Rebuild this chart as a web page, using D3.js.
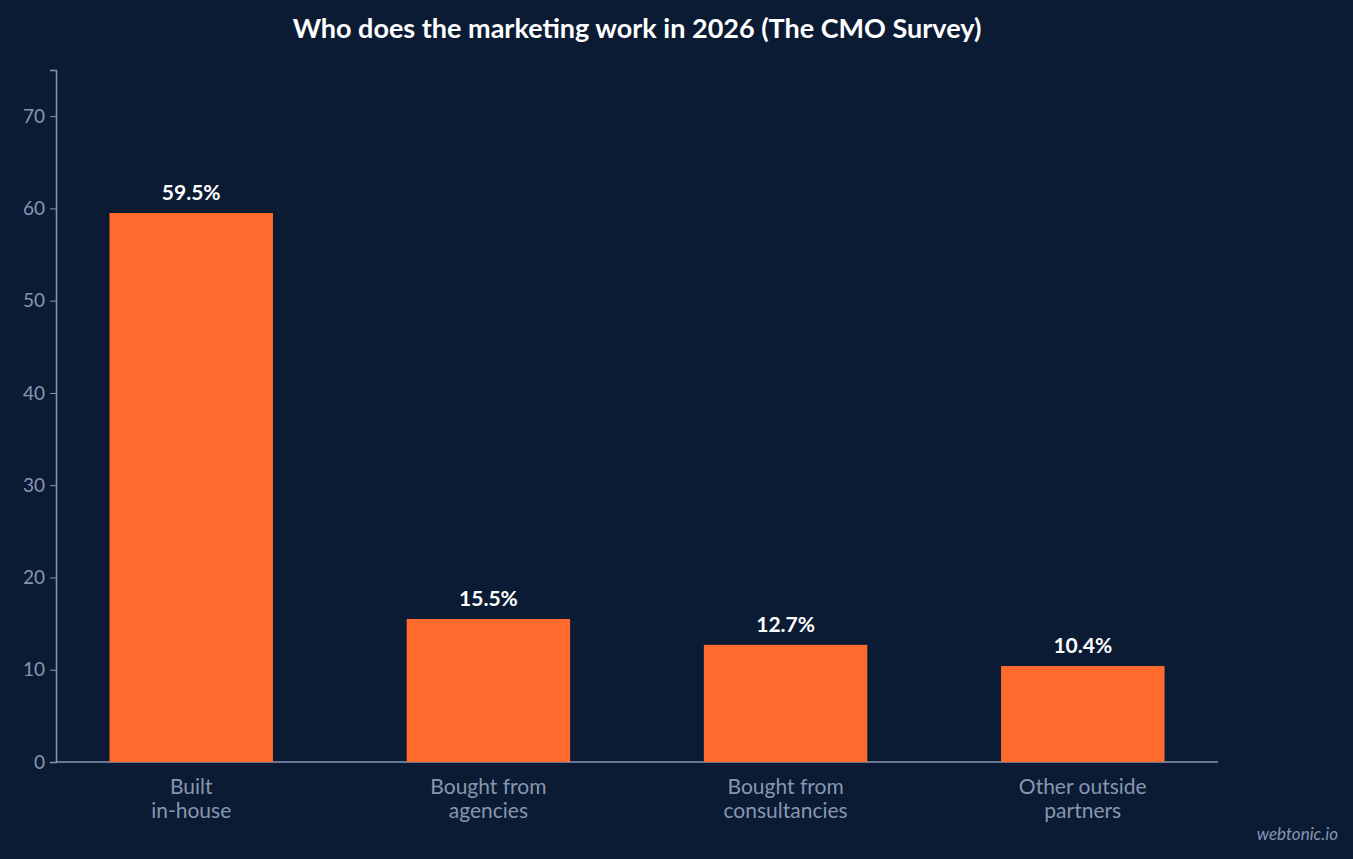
<!DOCTYPE html>
<html><head><meta charset="utf-8">
<script src="https://cdn.jsdelivr.net/npm/d3@7"></script>
<style>body{margin:0;background:#0b1b34;}svg{display:block;font-family:Lato,sans-serif;}</style>
</head><body><svg id="c" width="1353" height="859"></svg>
<script>
const categories=[["Built","in-house"],["Bought from","agencies"],["Bought from","consultancies"],["Other outside","partners"]];
const values=[59.5,15.5,12.7,10.4];
const yTicks=[0,10,20,30,40,50,60,70];
const svg=d3.select("#c");
svg.append("rect").attr("width",1353).attr("height",859).attr("fill","#0b1b34");
const x=d3.scaleBand().domain(d3.range(values.length)).range([56,1218]).paddingInner(0.45).paddingOuter(0.18);
const y=d3.scaleLinear().domain([0,75]).range([762,70]);
const axisCol="#8796b0";
svg.append("text").attr("x",637).attr("y",38).attr("text-anchor","middle").attr("fill","#fff")
 .attr("font-size",27).attr("font-weight","bold").text("Who does the marketing work in 2026 (The CMO Survey)");
const ya=svg.append("g").attr("transform","translate(56,0)").call(d3.axisLeft(y).tickValues(yTicks).tickSize(6).tickFormat(d3.format("d")));
ya.select(".domain").attr("stroke",axisCol).attr("stroke-width",1.5);
ya.selectAll(".tick line").attr("stroke",axisCol);
ya.selectAll("text").attr("fill",axisCol).attr("font-size",19).attr("font-family","Lato").attr("dx","-2");
svg.append("line").attr("x1",56).attr("x2",1218).attr("y1",762).attr("y2",762).attr("stroke",axisCol).attr("stroke-width",1.5);
svg.selectAll(".bar").data(values).join("rect").attr("x",(d,i)=>x(i)).attr("width",x.bandwidth())
 .attr("y",d=>y(d)).attr("height",d=>y(0)-y(d)).attr("fill","#ff6b2d");
svg.selectAll(".val").data(values).join("text").attr("x",(d,i)=>x(i)+x.bandwidth()/2).attr("y",d=>y(d)-13)
 .attr("text-anchor","middle").attr("fill","#fff").attr("font-weight","bold").attr("font-size",21).text(d=>d+"%");
categories.forEach((c,i)=>{
 const t=svg.append("text").attr("x",x(i)+x.bandwidth()/2).attr("text-anchor","middle").attr("fill",axisCol).attr("font-size",21);
 c.forEach((l,j)=>t.append("tspan").attr("x",x(i)+x.bandwidth()/2).attr("y",794+j*24).text(l));
});
svg.append("text").attr("x",1338).attr("y",840).attr("text-anchor","end").attr("fill",axisCol)
 .attr("font-style","italic").attr("font-size",17).text("webtonic.io");
</script></body></html>
